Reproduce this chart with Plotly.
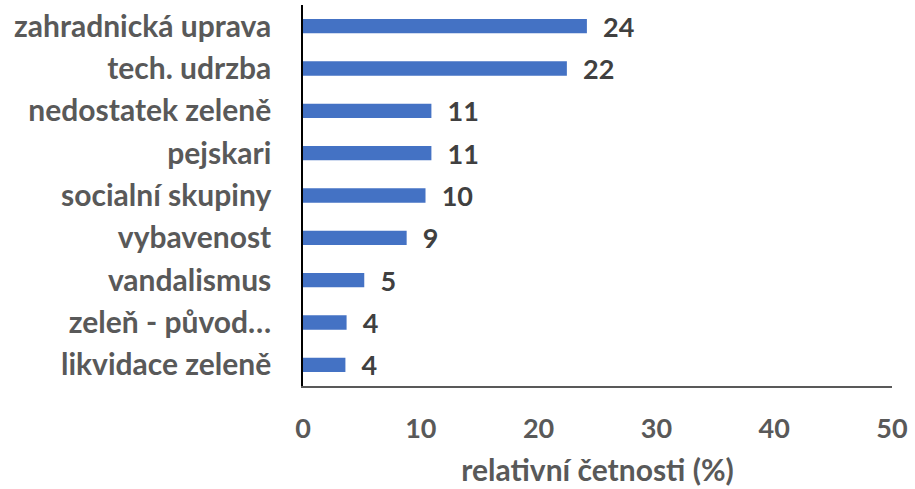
import plotly.graph_objects as go

categories = ["zahradnická uprava", "tech. udrzba", "nedostatek zeleně", "pejskari",
              "socialní skupiny", "vybavenost", "vandalismus", "zeleň - původ…", "likvidace zeleně"]
values = [24.1, 22.4, 10.9, 10.9, 10.4, 8.8, 5.2, 3.7, 3.6]
x_ticks = [0, 10, 20, 30, 40, 50]
x_title = "relativní četnosti (%)"

FONT = "Lato"
fig = go.Figure(go.Bar(
    x=values, y=categories, orientation="h",
    marker=dict(color="#4472C4", line=dict(width=0)),
    width=0.34,
    texttemplate="\u00a0\u00a0%{x:.0f}", textposition="outside",
    constraintext="none",
    textfont=dict(family=FONT, size=27, color="#404040", weight="bold"),
    cliponaxis=False,
))
fig.update_layout(
    width=915, height=489,
    margin=dict(l=303, r=23, t=5, b=103),
    paper_bgcolor="white", plot_bgcolor="white",
    showlegend=False,
    font=dict(family=FONT, color="#595959"),
    xaxis=dict(range=[0, 50], tickvals=x_ticks, showgrid=False, zeroline=False,
               showline=True, linecolor="#595959", linewidth=1.5,
               ticks="", ticklabelstandoff=18, automargin=False,
               tickfont=dict(family=FONT, size=27, color="#595959", weight="bold"),
               title=dict(text=x_title, standoff=17,
                          font=dict(family=FONT, size=30, color="#595959", weight="bold"))),
    yaxis=dict(autorange="reversed", showgrid=False, zeroline=False,
               showline=True, linecolor="black", linewidth=1.5, ticks="",
               ticklabelstandoff=24, automargin=False,
               tickfont=dict(family=FONT, size=30, color="#595959", weight="bold")),
)
fig.write_html("out.html", config={"displayModeBar": False},
               post_script="document.body.style.margin='0';")
